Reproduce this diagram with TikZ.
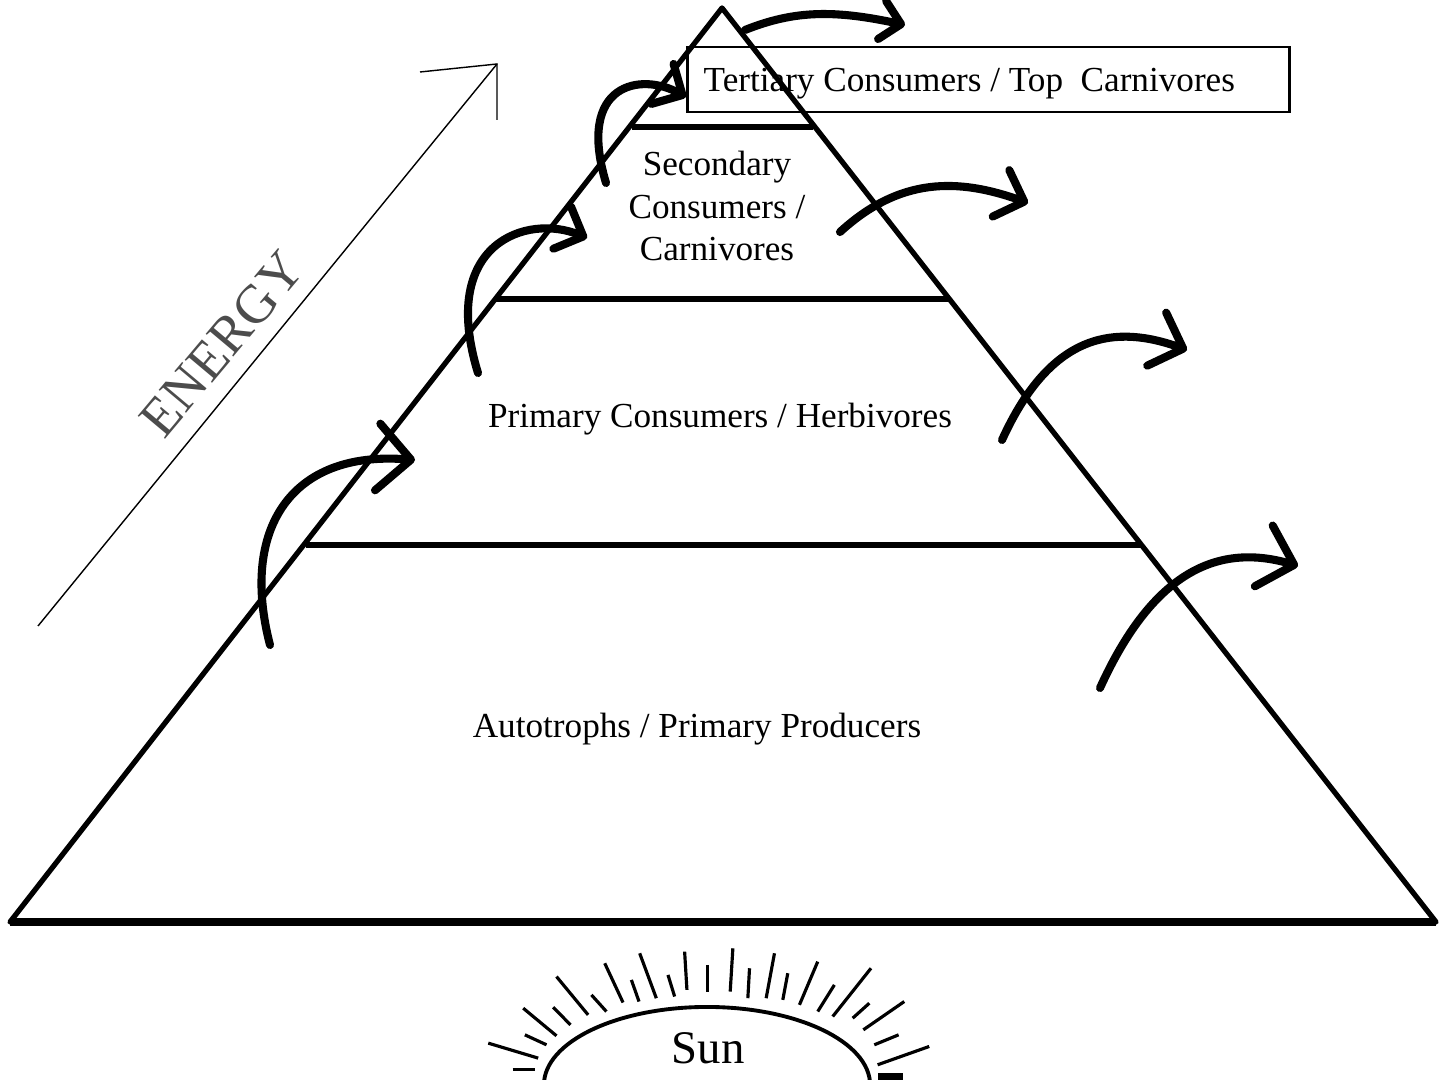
\documentclass[tikz,border=0pt]{standalone}
\usepackage{fontspec}
\setmainfont{Liberation Serif}
\usetikzlibrary{arrows.meta,shapes.geometric}
\tikzset{
  level/.style={line width=1.5pt},
  flow/.style={line width=2.3pt, line cap=round, -{Straight Barb[round,length=#1*0.5pt,width=#1*1pt,line width=2.3pt]}},
  flow/.default=18,
  ray/.style={line width=0.9pt},
  lbl/.style={inner sep=0pt, font=\fontsize{10}{12}\selectfont}
}
\begin{document}
\begin{tikzpicture}[x=0.01cm, y=-0.01cm]
  \useasboundingbox (0,0) rectangle (1440,1080);
  \clip (0,0) rectangle (1440,1080);
  % Pyramid
  \coordinate (apex) at (722,8);
  \coordinate (baseL) at (10,922);
  \coordinate (baseR) at (1436,922);
  \draw[level, line join=round] (apex) -- (baseL) -- (baseR) -- cycle;
  \draw[line width=2pt] (baseL) -- (baseR);
  % Levels
  \coordinate (l1a) at (306,545); \coordinate (l1b) at (1141,545);
  \coordinate (l2a) at (496,299); \coordinate (l2b) at (949,299);
  \coordinate (l3a) at (632,127); \coordinate (l3b) at (813,127);
  \foreach \i in {1,2,3} {
    \draw[level] (l\i a) -- (l\i b);
  }
  % Labels
  \node[draw, line width=0.8pt, minimum width=6.01cm, minimum height=0.65cm, inner sep=0pt] (top) at (988.5,79.5) {};
  \node[lbl, anchor=west] (tertiary) at (703,84) {Tertiary Consumers / Top\ \ Carnivores};
  \node[lbl, align=center, font=\fontsize{10}{11.95}\selectfont] (secondary) at (717,206) {Secondary\\Consumers /\\Carnivores};
  \node[lbl] (primary) at (720,419) {Primary Consumers / Herbivores};
  \node[lbl] (auto) at (697,729) {Autotrophs / Primary Producers};
  % Energy arrow
  \coordinate (en1) at (38,626);
  \coordinate (en2) at (497,64);
  \coordinate (en3) at (420,72);
  \coordinate (en4) at (497,120);
  \draw[line width=0.4pt] (en1) -- (en2);
  \draw[line width=0.4pt] (en3) -- (en2) -- (en4);
  \node[inner sep=0pt, rotate=50, text=black!70, font=\fontsize{15.5}{18}\selectfont] (energy) at (222,344) {ENERGY};
  % Flows up the left side
  \coordinate (a1) at (270,645); \coordinate (b1) at (415,460);
  \coordinate (a2) at (478,373); \coordinate (b2) at (587,238);
  \coordinate (a3) at (606,183); \coordinate (b3) at (686,97);
  \draw[flow=19] (a1) .. controls +(-30,-115) and +(-125,-10) .. (b1);
  \draw[flow=13] (a2) .. controls +(-40,-130) and +(-60,-25) .. (b2);
  \draw[flow=13] (a3) .. controls +(-30,-100) and +(-45,-25) .. (b3);
  % Flows out the right side
  \coordinate (c1) at (1100,688); \coordinate (d1) at (1298,566);
  \coordinate (c2) at (1002,440); \coordinate (d2) at (1187,350);
  \coordinate (c3) at (840,232); \coordinate (d3) at (1028,203);
  \coordinate (c4) at (745,30); \coordinate (d4) at (905,25);
  \draw[flow=18] (c1) .. controls +(50,-110) and +(-85,-25) .. (d1);
  \draw[flow=16] (c2) .. controls +(50,-110) and +(-70,-25) .. (d2);
  \draw[flow=14] (c3) .. controls +(60,-55) and +(-70,-25) .. (d3);
  \draw[flow=11] (c4) .. controls +(50,-20) and +(-70,-15) .. (d4);
  % Sun
  \node[draw, line width=1.1pt, minimum width=3.26cm, minimum height=1.56cm, inner sep=0pt, ellipse] (sun) at (707,1085) {};
  \node[inner sep=0pt, font=\fontsize{13.3}{16}\selectfont] (sunlbl) at (708,1048) {Sun};
  \begin{scope}[shift={(440,920)}, x=0.00333cm, y=-0.00333cm]
    \foreach \xa/\ya/\xb/\yb in {145/370/295/415, 218/450/285/450, 255/345/320/375, 250/265/350/348,
      340/262/392/315, 350/170/445/285, 455/225/500/275, 495/130/550/248, 575/180/598/245,
      600/100/650/235, 685/165/705/230, 735/95/742/210, 805/135/805/215, 880/85/872/215,
      930/145/925/235, 1005/100/980/235, 1045/160/1030/240, 1135/125/1080/255, 1185/195/1135/275,
      1295/145/1180/290, 1290/250/1240/295, 1395/245/1272/330, 1378/345/1305/375, 1470/380/1315/435} {
      \draw[ray] (\xa,\ya) -- (\xb,\yb);
    }
    \fill (1315,460) rectangle (1390,480);
  \end{scope}
\end{tikzpicture}
\end{document}
